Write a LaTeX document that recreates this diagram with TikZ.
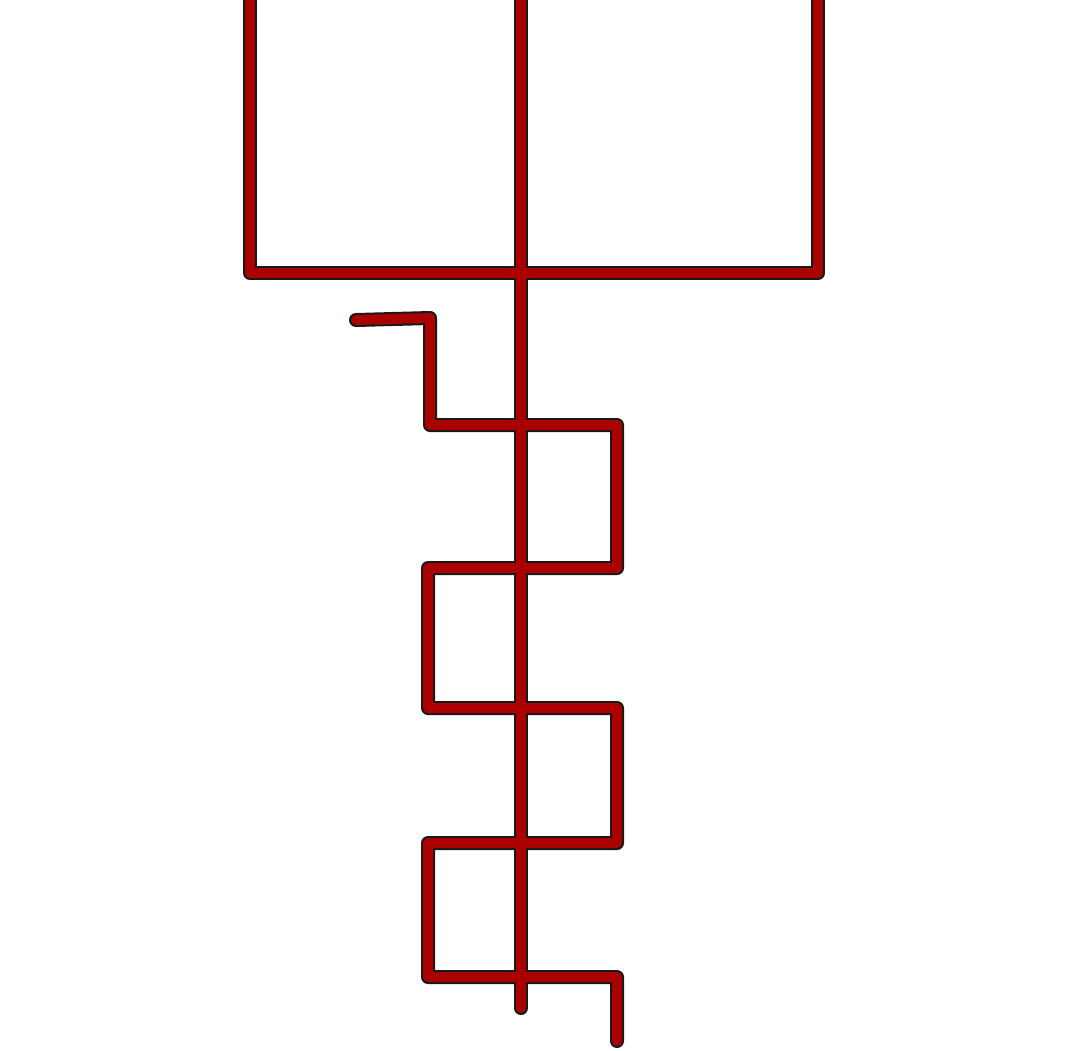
\documentclass[tikz,border=0pt]{standalone}
\definecolor{wire}{RGB}{170,0,0}
\definecolor{edge}{RGB}{25,25,25}
\begin{document}
\begin{tikzpicture}[x=1pt,y=-1pt,
  outline/.style={draw=edge,line width=14pt,line cap=round,line join=round},
  fill line/.style={draw=wire,line width=10pt,line cap=round,line join=round}]
\useasboundingbox (0,0) rectangle (1090,1050);
\clip (0,0) rectangle (1090,1050);
% named points
\coordinate (lt) at (250,-10);
\coordinate (lb) at (250,273);
\coordinate (rt) at (818,-10);
\coordinate (rb) at (818,273);
\coordinate (mt) at (521,-10);
\coordinate (mb) at (521,1008);
\coordinate (h0) at (356,320);
\coordinate (h1) at (430,318);
\coordinate (h2) at (430,425);
\coordinate (h3) at (617,425);
\coordinate (h4) at (617,568);
\coordinate (h5) at (428,568);
\coordinate (h6) at (428,708);
\coordinate (h7) at (617,708);
\coordinate (h8) at (617,843);
\coordinate (h9) at (428,843);
\coordinate (h10) at (428,977);
\coordinate (h11) at (617,977);
\coordinate (h12) at (617,1041);
\foreach \st in {outline,fill line}{
  \draw[\st] (lt) -- (lb) -- (rb) -- (rt);
  \draw[\st] (mt) -- (mb);
  \draw[\st] (h0) -- (h1) -- (h2) -- (h3) -- (h4) -- (h5) -- (h6) -- (h7) -- (h8) -- (h9) -- (h10) -- (h11) -- (h12);
}
\end{tikzpicture}
\end{document}
